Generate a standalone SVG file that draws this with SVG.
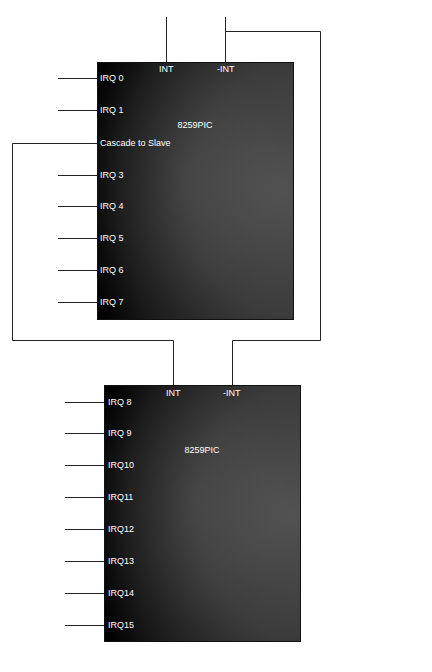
<svg xmlns="http://www.w3.org/2000/svg" width="432" height="672" viewBox="0 0 432 672">
<style>
.w{fill:none;stroke:#222;stroke-width:1}
.t{font-family:"Liberation Sans",Arial,sans-serif;font-size:9px;fill:#fff}
.box{stroke:#111;stroke-width:1}
</style>
<defs>
<radialGradient id="g" cx="0.95" cy="0.5" r="1.05" fx="0.95" fy="0.5">
<stop offset="0" stop-color="#525252"/>
<stop offset="0.45" stop-color="#3c3c3c"/>
<stop offset="0.8" stop-color="#1a1a1a"/>
<stop offset="1" stop-color="#000"/>
</radialGradient>
<radialGradient id="h" cx="0.45" cy="0.45" r="0.5">
<stop offset="0" stop-color="#fff" stop-opacity="0.06"/>
<stop offset="1" stop-color="#fff" stop-opacity="0"/>
</radialGradient>
</defs>
<rect width="432" height="672" fill="#fff"/>
<g id="connectors">
<path class="w" d="M166.5 17V62"/>
<path class="w" d="M225.5 17V62"/>
<path class="w" d="M225.5 31.5H320.5V340.5H232.5V385"/>
<path class="w" d="M97 143.5H12.5V340.5H173.5V385"/>
<path class="w" d="M58 78.5H97M58 110.5H97M58 175.5H97M58 206.5H97M58 238.5H97M58 270.5H97M58 302.5H97"/>
<path class="w" d="M65 402.5H104M65 433.5H104M65 465.5H104M65 497.5H104M65 529.5H104M65 561.5H104M65 593.5H104M65 625.5H104"/>
</g>
<g id="pic-master">
<rect class="box" x="97.5" y="62.5" width="196" height="257" fill="url(#g)"/>
<rect x="97.5" y="62.5" width="196" height="257" fill="url(#h)"/>
<text class="t" x="159" y="72">INT</text>
<text class="t" x="217" y="72">-INT</text>
<text class="t" x="195" y="128" text-anchor="middle">8259PIC</text>
<text class="t" x="100" y="81">IRQ 0</text>
<text class="t" x="100" y="113">IRQ 1</text>
<text class="t" x="100" y="146">Cascade to Slave</text>
<text class="t" x="100" y="178">IRQ 3</text>
<text class="t" x="100" y="209">IRQ 4</text>
<text class="t" x="100" y="241">IRQ 5</text>
<text class="t" x="100" y="273">IRQ 6</text>
<text class="t" x="100" y="305">IRQ 7</text>
</g>
<g id="pic-slave">
<rect class="box" x="104.5" y="385.5" width="196" height="256" fill="url(#g)"/>
<rect x="104.5" y="385.5" width="196" height="256" fill="url(#h)"/>
<text class="t" x="166" y="396">INT</text>
<text class="t" x="223" y="396">-INT</text>
<text class="t" x="202" y="453" text-anchor="middle">8259PIC</text>
<text class="t" x="108" y="405">IRQ 8</text>
<text class="t" x="108" y="436">IRQ 9</text>
<text class="t" x="108" y="468">IRQ10</text>
<text class="t" x="108" y="500">IRQ11</text>
<text class="t" x="108" y="532">IRQ12</text>
<text class="t" x="108" y="564">IRQ13</text>
<text class="t" x="108" y="596">IRQ14</text>
<text class="t" x="108" y="628">IRQ15</text>
</g>
</svg>
